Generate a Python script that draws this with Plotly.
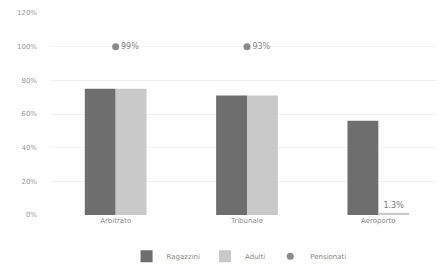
import plotly.graph_objects as go

categories = ["Arbitrato", "Tribunale", "Aeroporto"]
series_a = [75, 71, 56]
series_b = [75, 71, 1.3]
series_c_x = ["Arbitrato", "Tribunale"]
series_c = [100, 100]
series_c_text = ["99%", "93%"]
series_names = ["Ragazzini", "Adulti", "Pensionati"]
tick_vals = [0, 20, 40, 60, 80, 100, 120]
tick_text = ["0%", "20%", "40%", "60%", "80%", "100%", "120%"]

fig = go.Figure()
fig.add_trace(go.Bar(x=categories, y=series_a, name=series_names[0],
                     marker_color="#6e6e6e", marker_line_width=0))
fig.add_trace(go.Bar(x=categories, y=series_b, name=series_names[1],
                     marker_color="#c9c9c9", marker_line_width=0,
                     text=["", "", "1.3%"], textposition="outside",
                     textfont=dict(size=8, color="#777"), cliponaxis=False))
fig.add_trace(go.Scatter(x=series_c_x, y=series_c, name=series_names[2],
                         mode="markers+text", text=series_c_text,
                         textposition="middle right",
                         marker=dict(color="#8a8a8a", size=7),
                         textfont=dict(size=8, color="#888")))

fig.update_layout(
    width=436, height=256,
    margin=dict(l=42, r=0, t=5, b=49, autoexpand=False),
    paper_bgcolor="white", plot_bgcolor="white",
    barmode="group", bargap=0.53, bargroupgap=0,
    font=dict(family="DejaVu Sans", size=7, color="#888"),
    showlegend=True,
    legend=dict(orientation="h", x=0.53, xanchor="center", xref="container",
                y=0.03, yanchor="middle", yref="container",
                font=dict(size=7, color="#888"), itemwidth=30,
                tracegroupgap=0),
    xaxis=dict(showgrid=False, showline=False, ticks="", automargin=False,
               tickfont=dict(size=7, color="#888")),
    yaxis=dict(range=[0, 120], tickvals=tick_vals, ticktext=tick_text, automargin=False,
               showgrid=True, gridcolor="#f2f2f2", zeroline=False,
               tickfont=dict(size=7, color="#999"), ticklabelstandoff=12),
)

fig.write_html("out.html")
